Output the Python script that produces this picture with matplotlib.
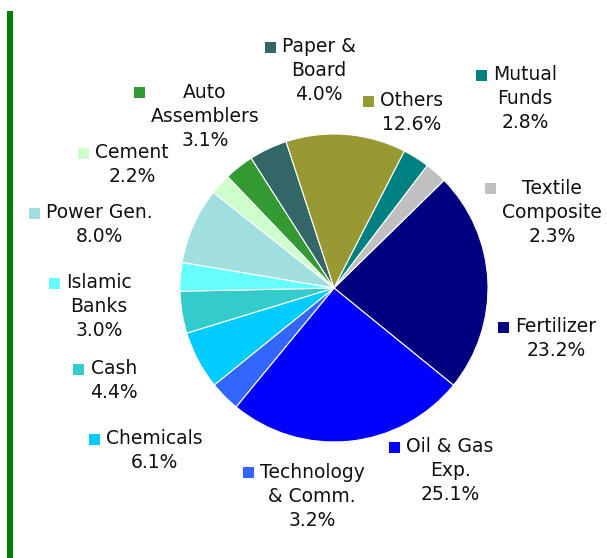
import matplotlib
matplotlib.use('Agg')
import matplotlib.pyplot as plt
from matplotlib.patches import Rectangle

# ---- data (clockwise, starting at Fertilizer) ----
sectors = ['Fertilizer', 'Oil & Gas\nExp.', 'Technology\n& Comm.', 'Chemicals', 'Cash',
           'Islamic\nBanks', 'Power Gen.', 'Cement', 'Auto\nAssemblers', 'Paper &\nBoard',
           'Others', 'Mutual\nFunds', 'Textile\nComposite']
weights = [23.2, 25.1, 3.2, 6.1, 4.4, 3.0, 8.0, 2.2, 3.1, 4.0, 12.6, 2.8, 2.3]
colors = ['#000080', '#0000FF', '#3366FF', '#00CCFF', '#33CCCC', '#66FFFF', '#A0DEE0',
          '#CCFFCC', '#339933', '#336666', '#999933', '#008080', '#C0C0C0']

# ---- layout: label centre x / first line y in pixels from top ----
label_pos = [(556, 327), (450, 447), (312, 472), (154, 439), (114, 369), (99, 283),
             (99, 213), (132, 153), (205, 92), (319, 47), (412, 101), (525, 75), (552, 188)]

W, H = 607, 558
fig = plt.figure(figsize=(W / 100, H / 100), dpi=100)
ax = fig.add_axes([0, 0, 1, 1])
ax.axis('off')

ax.pie(weights, colors=colors, startangle=90 - 45.6, counterclock=False,
       center=(334, H - 288), radius=154,
       wedgeprops=dict(edgecolor='white', linewidth=0.8))
ax.set_xlim(0, W)
ax.set_ylim(0, H)
ax.set_aspect('auto')

# green bar on the left
ax.add_patch(Rectangle((7, 0), 5.5, H - 11, color='#008000', lw=0))

fig.canvas.draw()
rend = fig.canvas.get_renderer()
inv = ax.transData.inverted()

for name, val, col, (cx, cy) in zip(sectors, weights, colors, label_pos):
    lines = name.split('\n') + ['%.1f%%' % val]
    left = None
    for i, ln in enumerate(lines):
        t = ax.text(cx, H - (cy + i * 24), ln, ha='center', va='center',
                    fontsize=13.5, color='#111111', family='DejaVu Sans')
        bb = t.get_window_extent(renderer=rend)
        x0 = inv.transform((bb.x0, bb.y0))[0]
        left = x0 if left is None else min(left, x0)
    ax.add_patch(Rectangle((left - 17, H - cy - 5.5), 11, 11, color=col, lw=0))

fig.savefig('out.png', dpi=100)
